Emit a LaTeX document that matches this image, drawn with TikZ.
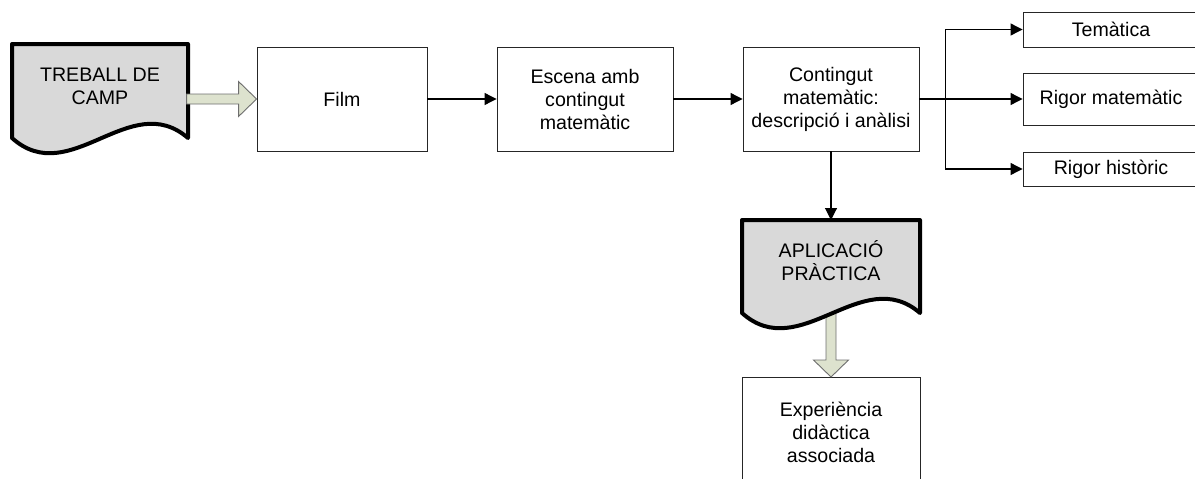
\documentclass[tikz,border=0pt]{standalone}
\usepackage{fontspec}
\setmainfont{Liberation Sans}
\usetikzlibrary{arrows.meta,calc}
\definecolor{docgray}{RGB}{217,217,217}
\definecolor{fatfill}{RGB}{221,226,206}
\definecolor{fatline}{RGB}{110,110,110}
\tikzset{
  box/.style={draw=black!85, line width=0.9pt, fill=white, align=center,
    inner sep=2pt, font=\fontsize{19.6}{23}\selectfont},
  doclabel/.style={align=center, inner sep=0pt, font=\fontsize{19.6}{23}\selectfont},
  docshape/.style={draw=black, line width=4pt, line join=round, fill=docgray},
  conn/.style={draw=black, line width=1.1pt, -{Triangle[length=12pt,width=12pt]}},
  fat/.style={draw=fatline, line width=0.9pt, fill=fatfill, line join=miter}
}
\begin{document}
\begin{tikzpicture}[x=1pt,y=-1pt]
\useasboundingbox (0,0) rectangle (1195,479);
\clip (0,0) rectangle (1195,479);

% main row of process boxes
\node[box, minimum width=170pt, minimum height=104pt] (film) at (342,99) {Film};
\node[box, minimum width=176pt, minimum height=104pt] (esc) at (585,99) {Escena amb\\contingut\\matemàtic};
\node[box, minimum width=176pt, minimum height=104pt] (cont) at (831,99) {Contingut\\matemàtic:\\descripció i anàlisi};

% the three criteria on the right
\node[box, minimum width=176pt, minimum height=35pt] (tem) at (1111,29.5) {Temàtica};
\node[box, minimum width=176pt, minimum height=52pt] (rmat) at (1111,99) {Rigor matemàtic};
\node[box, minimum width=176pt, minimum height=34pt] (rhist) at (1111,169) {Rigor històric};

% final box at the bottom
\node[box, minimum width=178pt, minimum height=110pt, anchor=north] (exp) at (831,377) {Experiència\\didàctica\\associada};

% block arrow from the application document down to the final box
\draw[fat, shift={(exp.north)}] (-5,-75) -- (-5,-17) -- (-17.5,-17) -- (0,0)
  -- (17.5,-17) -- (5,-17) -- (5,-75) -- cycle;

% field work document
\draw[docshape] (12,44) -- (188,44) -- (188,138)
  .. controls (130,88) and (70,190) .. (12,138) -- cycle;
\node[doclabel] (tc) at (100,86) {TREBALL DE\\CAMP};

% application document
\draw[docshape] (742,220) -- (920,220) -- (920,313)
  .. controls (862,263) and (800,365) .. (742,313) -- cycle;
\node[doclabel] (apl) at (831,261) {APLICACIÓ\\PRÀCTICA};
\coordinate (aplTop) at (831,220);

% block arrow from field work into the film box
\draw[fat, shift={(film.west)}] (-70,-5) -- (-18,-5) -- (-18,-17.5) -- (0,0)
  -- (-18,17.5) -- (-18,5) -- (-70,5) -- cycle;

% connectors
\draw[conn] (film.east) -- (esc.west);
\draw[conn] (esc.east) -- (cont.west);
\draw[conn] (cont.east) -- (rmat.west);
\draw[conn] (cont.east) -- ++(26,0) |- (tem.west);
\draw[conn] (cont.east) -- ++(26,0) |- (rhist.west);
\draw[conn] (cont.south) -- (aplTop);
\end{tikzpicture}
\end{document}
